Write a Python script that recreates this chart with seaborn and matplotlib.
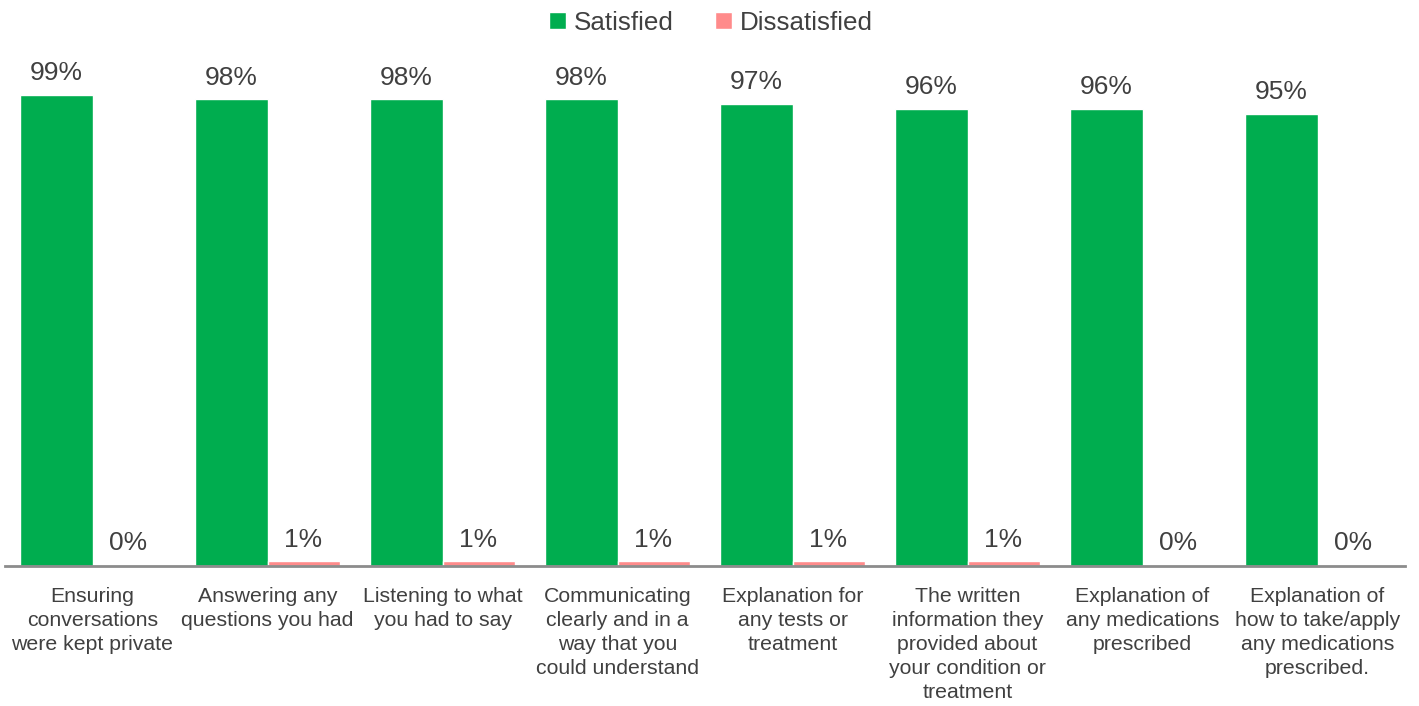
import matplotlib
matplotlib.use("Agg")
import matplotlib.pyplot as plt
import seaborn as sns
import pandas as pd

categories = [
    "Ensuring\nconversations\nwere kept private",
    "Answering any\nquestions you had",
    "Listening to what\nyou had to say",
    "Communicating\nclearly and in a\nway that you\ncould understand",
    "Explanation for\nany tests or\ntreatment",
    "The written\ninformation they\nprovided about\nyour condition or\ntreatment",
    "Explanation of\nany medications\nprescribed",
    "Explanation of\nhow to take/apply\nany medications\nprescribed.",
]
satisfied = [99, 98, 98, 98, 97, 96, 96, 95]
dissatisfied = [0.3, 1, 1, 1, 1, 1, 0.3, 0.3]
series = ["Satisfied", "Dissatisfied"]
colors = ["#00AD4F", "#FF8B8B"]

rows = []
for c, s, d in zip(categories, satisfied, dissatisfied):
    rows.append({"cat": c, "series": series[0], "value": s})
    rows.append({"cat": c, "series": series[1], "value": d})
df = pd.DataFrame(rows)

sns.set_theme(style="white")
plt.rcParams["font.family"] = ["Liberation Sans", "DejaVu Sans"]
text_color = "#404040"

fig = plt.figure(figsize=(14.19, 7.06), dpi=100)
ax = fig.add_axes([5 / 1419, 140 / 706, 1400 / 1419, 500 / 706])

sns.barplot(data=df, x="cat", y="value", hue="series", palette=colors,
            hue_order=series, order=categories, width=0.823, gap=0,
            saturation=1, ax=ax, legend=True, errorbar=None)

ax.set_ylim(0, 105)
ax.set_xlim(-0.5, len(categories) - 0.5)
ax.set_xlabel("")
ax.set_ylabel("")
ax.set_yticks([])
for sp in ["top", "right", "left"]:
    ax.spines[sp].set_visible(False)
ax.spines["bottom"].set_color("#8C8C8C")
ax.spines["bottom"].set_linewidth(2)
ax.tick_params(axis="x", length=0, pad=15, labelsize=15.3, colors=text_color)
ax.set_xticks(range(len(categories)))
ax.set_xticklabels(categories, linespacing=1.33, va="top")

for container in ax.containers:
    labels = [f"{round(b.get_height()):.0f}%" for b in container]
    ax.bar_label(container, labels=labels, padding=7, fontsize=19,
                 color=text_color, clip_on=False)

leg = ax.legend(loc="upper center", bbox_to_anchor=(0.501, 1.007),
                bbox_transform=fig.transFigure, ncol=2, frameon=False,
                fontsize=18.7, handlelength=0.65, handleheight=0.65,
                handletextpad=0.3, columnspacing=1.6, borderaxespad=0.2)
for t in leg.get_texts():
    t.set_color(text_color)

fig.savefig("out.png", dpi=100)
